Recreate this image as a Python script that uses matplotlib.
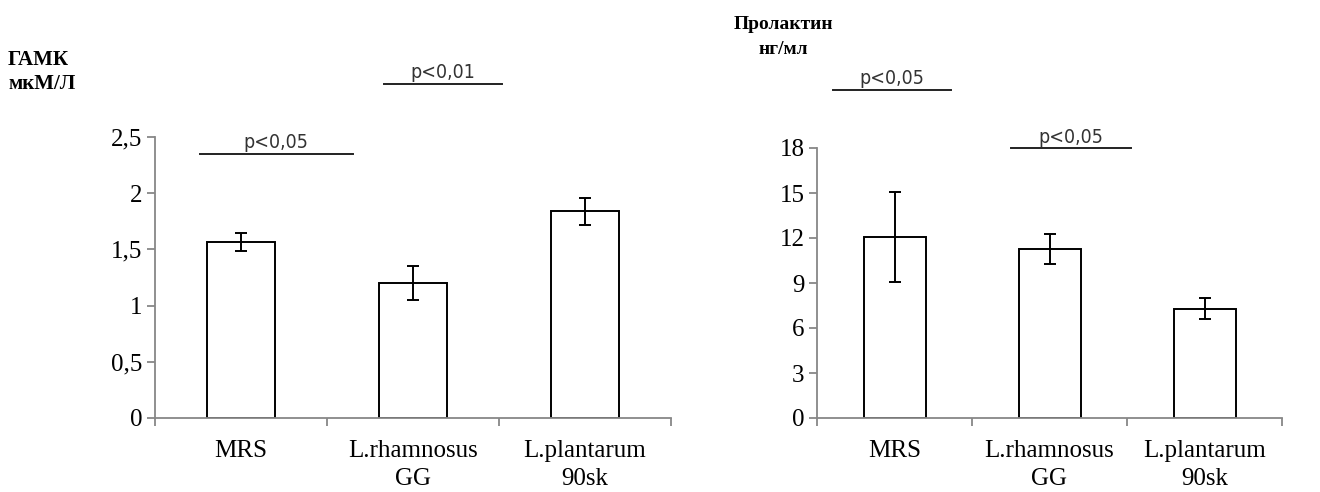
import matplotlib.pyplot as plt

categories = ['MRS', 'L.rhamnosus\nGG', 'L.plantarum\n90sk']

gaba_mean = [1.57, 1.20, 1.84]
gaba_err = [0.08, 0.15, 0.12]
gaba_ticks = [0, 0.5, 1, 1.5, 2, 2.5]
gaba_ticklabels = ['0', '0,5', '1', '1,5', '2', '2,5']

prl_mean = [12.1, 11.3, 7.3]
prl_err = [3.0, 1.0, 0.7]
prl_ticks = [0, 3, 6, 9, 12, 15, 18]

# significance marks: (x start, x end, y level, text)
gaba_sig = [(-0.24, 0.65, 2.35, 'p<0,05'), (0.83, 1.52, 2.975, 'p<0,01')]
prl_sig = [(-0.40, 0.365, 21.9, 'p<0,05'), (0.75, 1.525, 18.0, 'p<0,05')]

serif = ['Liberation Serif', 'DejaVu Serif']
grey = '#878787'

fig = plt.figure(figsize=(13.2, 4.92), dpi=100)


def draw(ax, means, errs, ticks, ticklabels, ymax, sig):
    x = range(len(categories))
    ax.bar(x, means, width=0.4, color='white', edgecolor='black', linewidth=1.4,
           yerr=errs, capsize=4.5, error_kw=dict(elinewidth=1.4, capthick=1.4, ecolor='black'))
    ax.set_xlim(-0.5, len(categories) - 0.5)
    ax.set_ylim(0, ymax)
    ax.set_yticks(ticks)
    ax.set_yticklabels(ticklabels, fontfamily=serif, fontsize=18)
    ax.set_xticks(list(x))
    ax.set_xticklabels(categories, fontfamily=serif, fontsize=18, linespacing=1.35)
    ax.set_xticks([i - 0.5 for i in range(len(categories) + 1)], minor=True)
    ax.tick_params(axis='x', which='major', length=0, pad=16)
    ax.tick_params(axis='x', which='minor', length=6, color=grey, width=1.3, direction='out')
    ax.tick_params(axis='y', length=6, color=grey, width=1.3, direction='out', pad=3)
    for s in ['top', 'right']:
        ax.spines[s].set_visible(False)
    for s in ['left', 'bottom']:
        ax.spines[s].set_color(grey)
        ax.spines[s].set_linewidth(1.3)
    for x0, x1, y, txt in sig:
        ax.plot([x0, x1], [y, y], color='#222222', linewidth=1.4, clip_on=False)
        ax.annotate(txt, xy=((x0 + x1) / 2, y), xytext=(0, 1), textcoords='offset points',
                    ha='center', va='bottom', fontfamily='DejaVu Sans', fontstretch='condensed',
                    fontsize=14, color='#333333', annotation_clip=False)


ax1 = fig.add_axes([155 / 1320, 74 / 492, 516 / 1320, 281 / 492])
draw(ax1, gaba_mean, gaba_err, gaba_ticks, gaba_ticklabels, 2.5, gaba_sig)

ax2 = fig.add_axes([817 / 1320, 74 / 492, 465 / 1320, 270 / 492])
draw(ax2, prl_mean, prl_err, prl_ticks, [str(t) for t in prl_ticks], 18, prl_sig)

fig.text(8 / 1320, 1 - 72 / 492, 'ГАМК\nмкМ/Л', ha='left', va='center',
         fontfamily=serif, fontsize=15, fontweight='bold', linespacing=1.25)
fig.text(783 / 1320, 1 - 37 / 492, 'Пролактин\nнг/мл', ha='center', va='center',
         fontfamily=serif, fontsize=14, fontweight='bold', linespacing=1.6,
         multialignment='center')

fig.savefig('out.png', dpi=100)
